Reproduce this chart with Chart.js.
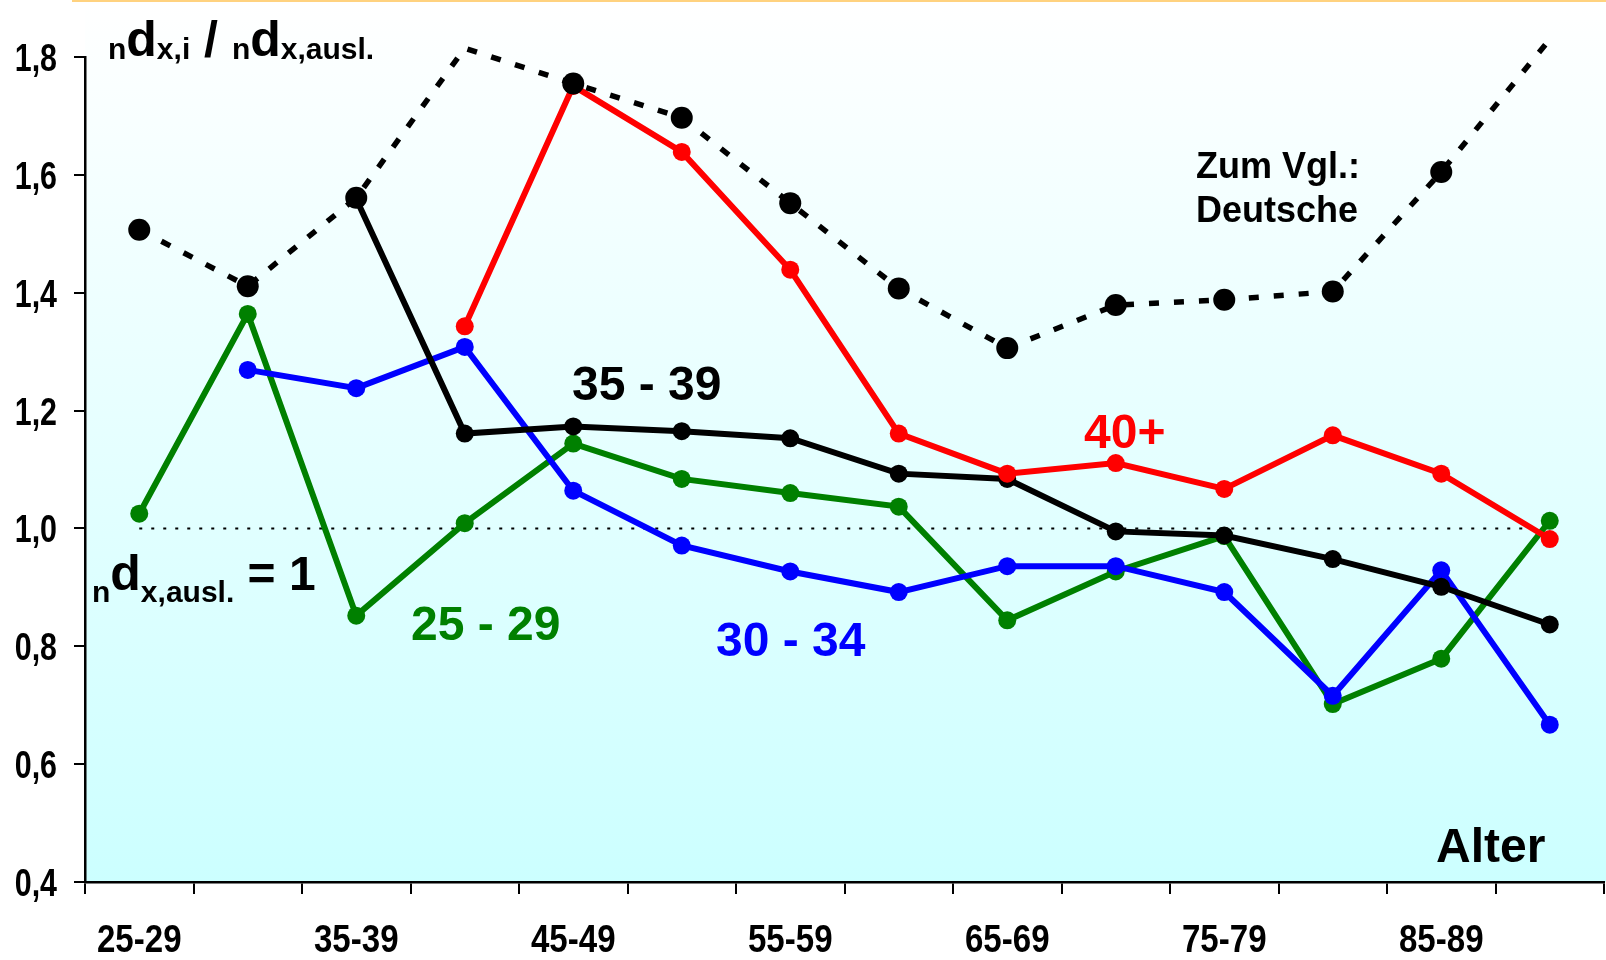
<!DOCTYPE html>
<html>
<head>
<meta charset="utf-8">
<script src="https://cdn.jsdelivr.net/npm/chart.js@4.4.0/dist/chart.umd.min.js"></script>
<style>
  html, body { margin: 0; padding: 0; background: #fff; }
  #wrap { width: 1606px; height: 960px; }
</style>
</head>
<body>
<div id="wrap"><canvas id="chart" width="1606" height="960"></canvas></div>
<script>
// age groups (x categories)
const ageGroups = ['25-29', '30-34', '35-39', '40-44', '45-49', '50-54', '55-59',
                   '60-64', '65-69', '70-74', '75-79', '80-84', '85-89', '90+'];
const yTicks = [0.4, 0.6, 0.8, 1.0, 1.2, 1.4, 1.6, 1.8];

// ratio nd(x,i) / nd(x,ausl.) per age of mother group
const deutsche = [1.507, 1.411, 1.561, 1.815, 1.755, 1.697, 1.552, 1.407, 1.306, 1.379, 1.388, 1.402, 1.605, 1.83];
const g40plus  = [null, null, null, 1.343, 1.751, 1.639, 1.439, 1.161, 1.093, 1.111, 1.067, 1.158, 1.093, 0.982];
const g3539    = [null, null, 1.559, 1.161, 1.173, 1.165, 1.153, 1.093, 1.084, 0.995, 0.988, 0.948, 0.901, 0.837];
const g3034    = [null, 1.269, 1.238, 1.308, 1.064, 0.971, 0.927, 0.892, 0.936, 0.936, 0.892, 0.716, 0.929, 0.667];
const g2529    = [1.025, 1.364, 0.852, 1.009, 1.144, 1.084, 1.060, 1.037, 0.844, 0.927, 0.987, 0.702, 0.779, 1.013];
const refLine  = ageGroups.map(() => 1.0);

const BOLD = '"Liberation Sans", Arial, sans-serif';

// draws pieces of text one after another (for the sub-/normal script labels)
function drawRuns(ctx, x, y, runs) {
    runs.forEach(r => {
        ctx.font = 'bold ' + r.size + 'px ' + BOLD;
        ctx.fillText(r.text, x, y + (r.dy || 0));
        x += ctx.measureText(r.text).width;
    });
}

// the tick font of the original is a condensed bold, so squeeze it a bit
function drawCondensed(ctx, text, x, y, align, sx) {
    ctx.save();
    ctx.translate(x, y);
    ctx.scale(sx, 1);
    ctx.textAlign = align;
    ctx.fillText(text, 0, 0);
    ctx.restore();
}

const backgroundPlugin = {
    id: 'bg',
    beforeDraw(chart) {
        const ctx = chart.ctx;
        const a = chart.chartArea;
        ctx.save();
        const grad = ctx.createLinearGradient(0, 0, 0, a.bottom);
        grad.addColorStop(0, '#ffffff');
        grad.addColorStop(1, '#ccffff');
        ctx.fillStyle = grad;
        ctx.fillRect(a.left, 0, chart.width - a.left, a.bottom);
        ctx.strokeStyle = '#ffd27f';
        ctx.lineWidth = 2;
        ctx.beginPath();
        ctx.moveTo(72, 1);
        ctx.lineTo(chart.width, 1);
        ctx.stroke();
        ctx.restore();
    }
};

const tickLabelPlugin = {
    id: 'tickLabels',
    afterDraw(chart) {
        const ctx = chart.ctx;
        const xs = chart.scales.x;
        const ys = chart.scales.y;
        ctx.save();
        ctx.fillStyle = '#000';
        ctx.textBaseline = 'alphabetic';
        ctx.font = 'bold 38px ' + BOLD;
        ageGroups.forEach((lab, i) => {
            if (i % 2 === 0) drawCondensed(ctx, lab, xs.getPixelForValue(i), 952, 'center', 0.87);
        });
        yTicks.forEach(v => {
            drawCondensed(ctx, v.toFixed(1).replace('.', ','), 57, ys.getPixelForValue(v) + 14, 'right', 0.8);
        });
        ctx.restore();
    }
};

const labelPlugin = {
    id: 'labels',
    afterDraw(chart) {
        const ctx = chart.ctx;
        ctx.save();
        ctx.textBaseline = 'alphabetic';
        ctx.textAlign = 'left';
        ctx.fillStyle = '#000';
        drawRuns(ctx, 108, 56, [
            {text: 'n', size: 30, dy: 3},
            {text: 'd', size: 50},
            {text: 'x,i', size: 30, dy: 3},
            {text: ' / ', size: 50},
            {text: 'n', size: 30, dy: 3},
            {text: 'd', size: 50},
            {text: 'x,ausl.', size: 30, dy: 3}
        ]);
        drawRuns(ctx, 92, 590, [
            {text: 'n', size: 30, dy: 12},
            {text: 'd', size: 50},
            {text: 'x,ausl.', size: 30, dy: 12},
            {text: ' = 1', size: 48}
        ]);
        ctx.font = 'bold 48px ' + BOLD;
        ctx.fillText('35 - 39', 572, 400);
        ctx.fillText('Alter', 1436, 862);
        ctx.fillStyle = '#ff0000';
        ctx.fillText('40+', 1084, 448);
        ctx.fillStyle = '#008000';
        ctx.fillText('25 - 29', 411, 640);
        ctx.fillStyle = '#0000ff';
        ctx.fillText('30 - 34', 716, 656);
        ctx.fillStyle = '#000';
        ctx.font = 'bold 36px ' + BOLD;
        ctx.fillText('Zum Vgl.:', 1196, 178);
        ctx.fillText('Deutsche', 1196, 222);
        ctx.restore();
    }
};

function lineSet(label, data, color, order) {
    return {
        label: label,
        data: data,
        borderColor: color,
        backgroundColor: color,
        borderWidth: 6,
        pointRadius: 9,
        pointHoverRadius: 9,
        pointBorderWidth: 0,
        tension: 0,
        spanGaps: false,
        clip: false,
        order: order
    };
}

const ctx = document.getElementById('chart');
const chart = new Chart(ctx, {
    type: 'line',
    data: {
        labels: ageGroups,
        datasets: [
            {
                label: 'Deutsche',
                data: deutsche,
                borderColor: '#000',
                backgroundColor: '#000',
                borderWidth: 5.5,
                borderDash: [10, 15],
                pointRadius: (c) => (c.dataIndex === 3 || c.dataIndex === 13) ? 0 : 11,
                pointBorderWidth: 0,
                tension: 0,
                clip: false,
                order: 0
            },
            lineSet('40+', g40plus, '#ff0000', 1),
            lineSet('35 - 39', g3539, '#000000', 2),
            lineSet('30 - 34', g3034, '#0000ff', 3),
            lineSet('25 - 29', g2529, '#008000', 4),
            {
                label: 'ref',
                data: refLine,
                borderColor: '#000',
                borderWidth: 2,
                borderDash: [3, 9],
                pointRadius: 0,
                tension: 0,
                order: 5
            }
        ]
    },
    options: {
        responsive: false,
        animation: false,
        devicePixelRatio: 1,
        layout: {
            autoPadding: false,
            padding: {top: 57, right: 2, left: 0, bottom: 0}
        },
        scales: {
            x: {
                offset: true,
                grid: {
                    offset: true,
                    drawOnChartArea: false,
                    drawTicks: true,
                    tickLength: 12,
                    color: '#000',
                    lineWidth: 2
                },
                border: {display: true, color: '#000', width: 2.5},
                ticks: {display: false, autoSkip: false},
                afterFit: (scale) => {
                    scale.height = 78;
                    scale.paddingLeft = 0;
                    scale.paddingRight = 0;
                }
            },
            y: {
                min: 0.4,
                max: 1.8,
                grid: {
                    drawOnChartArea: false,
                    drawTicks: true,
                    tickLength: 11,
                    color: '#000',
                    lineWidth: 2
                },
                border: {display: true, color: '#000', width: 2.5},
                ticks: {display: false},
                afterBuildTicks: (scale) => { scale.ticks = yTicks.map(v => ({value: v})); },
                afterFit: (scale) => { scale.width = 85; }
            }
        },
        plugins: {
            legend: {display: false},
            tooltip: {enabled: false}
        }
    },
    plugins: [backgroundPlugin, tickLabelPlugin, labelPlugin]
});
</script>
</body>
</html>
